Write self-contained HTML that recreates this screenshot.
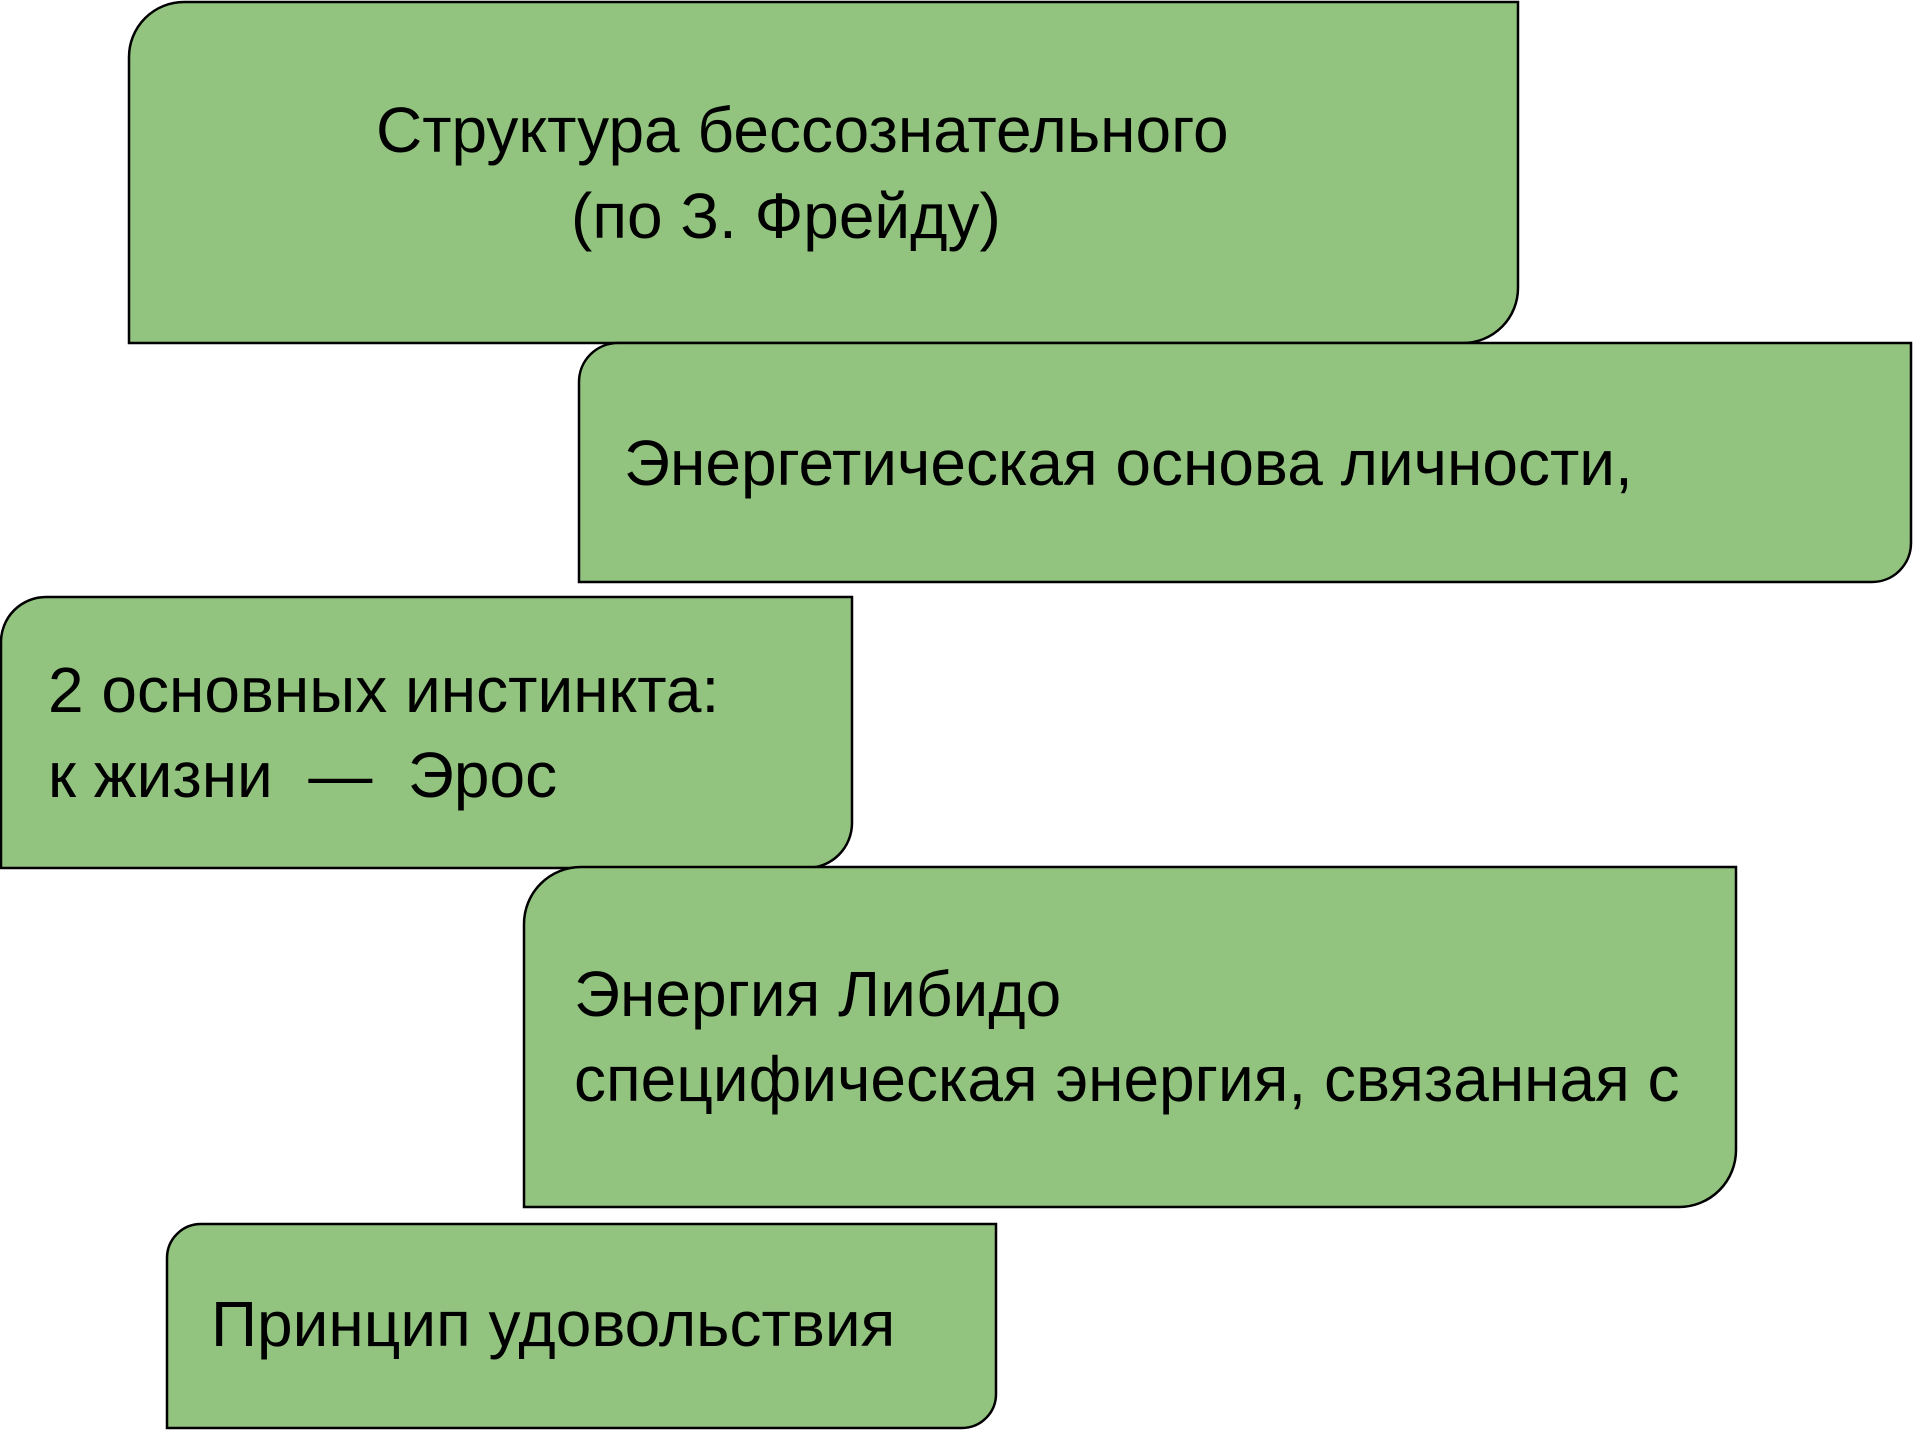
<!DOCTYPE html>
<html><head><meta charset="utf-8"><style>
html,body{margin:0;padding:0;background:#fff;width:1914px;height:1430px;overflow:hidden}
svg{display:block}
text{font-family:"Liberation Sans",Arial,sans-serif;font-size:64px;fill:#000}
</style></head><body>
<svg width="1914" height="1430" viewBox="0 0 1914 1430">
<g fill="#93c47f" stroke="#000" stroke-width="2.5">
<path d="M184 2 H1518 V288 A55 55 0 0 1 1463 343 H129 V57 A55 55 0 0 1 184 2 Z"/>
<path d="M618 343 H1911 V543 A39 39 0 0 1 1872 582 H579 V382 A39 39 0 0 1 618 343 Z"/>
<path d="M46 597 H852 V823 A45 45 0 0 1 807 868 H1 V642 A45 45 0 0 1 46 597 Z"/>
<path d="M581 867 H1736 V1150 A57 57 0 0 1 1679 1207 H524 V924 A57 57 0 0 1 581 867 Z"/>
<path d="M201 1224 H996 V1394 A34 34 0 0 1 962 1428 H167 V1258 A34 34 0 0 1 201 1224 Z"/>
</g>
<text x="376" y="152">Структура бессознательного</text>
<text x="571" y="238">(по З. Фрейду)</text>
<text x="624" y="485">Энергетическая основа личности,</text>
<text x="48" y="712">2 основных инстинкта:</text>
<text x="48" y="797">к жизни&#160; —&#160; Эрос</text>
<text x="574" y="1016">Энергия Либидо</text>
<text x="574" y="1101">специфическая энергия, связанная с</text>
<text x="211" y="1346">Принцип удовольствия</text>
</svg>
</body></html>
